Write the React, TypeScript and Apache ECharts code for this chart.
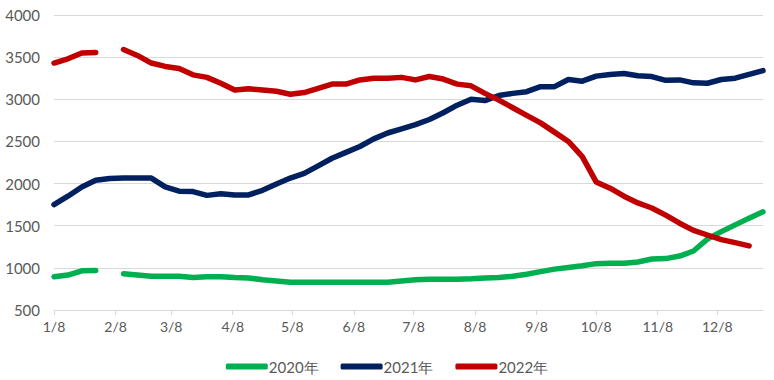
import React, { useEffect, useRef } from "react";
import * as echarts from "echarts";

// Weekly observations starting 1/8 (7-day steps); null = no data
const series2020: (number | null)[] = [
  895, 915, 965, 970, null, 930, 915, 900, 900, 900,
  885, 895, 895, 885, 880, 860, 845, 830, 830, 830,
  830, 830, 830, 830, 830, 845, 860, 865, 865, 865,
  870, 880, 885, 900, 925, 955, 985, 1005, 1025, 1050,
  1055, 1055, 1070, 1105, 1110, 1140, 1200, 1340, 1430, 1510,
  1590, 1665,
];
const series2021: (number | null)[] = [
  1750, 1850, 1960, 2040, 2060, 2065, 2065, 2065, 1960, 1910,
  1905, 1860, 1880, 1865, 1865, 1920, 1995, 2065, 2120, 2210,
  2300, 2370, 2440, 2530, 2600, 2650, 2700, 2760, 2840, 2930,
  3000, 2985, 3045, 3070, 3090, 3150, 3150, 3235, 3215, 3275,
  3295, 3305, 3280, 3270, 3225, 3230, 3195, 3190, 3235, 3250,
  3295, 3340,
];
const series2022: (number | null)[] = [
  3430, 3480, 3550, 3555, null, 3590, 3520, 3430, 3390, 3365,
  3290, 3260, 3190, 3110, 3125, 3110, 3095, 3060, 3080, 3130,
  3180, 3180, 3230, 3250, 3250, 3260, 3230, 3270, 3240, 3180,
  3160, 3070, 2990, 2900, 2810, 2720, 2610, 2500, 2320, 2020,
  1945, 1850, 1770, 1710, 1625, 1530, 1445, 1390, 1335, 1300,
  1260, null,
];
const seriesNames = ["2020年", "2021年", "2022年"];
const seriesColors = ["#00B050", "#002060", "#C00000"];
const yTicks = { min: 500, max: 4000, interval: 500 };
const labelDay = 8; // tick labels shown as M/8

// daily category axis from 1/8 to 12/31
const monthDays = [31, 28, 31, 30, 31, 30, 31, 31, 30, 31, 30, 31];
const days: string[] = [];
for (let m = 0; m < 12; m++) {
  for (let d = 1; d <= monthDays[m]; d++) {
    if (m === 0 && d < 8) continue;
    days.push(`${m + 1}/${d}`);
  }
}
const isLabelDay = (_i: number, v: string) => v.split("/")[1] === String(labelDay);

export default function App() {
  const ref = useRef<HTMLDivElement>(null);
  useEffect(() => {
    if (!ref.current) return;
    const chart = echarts.init(ref.current, undefined, { renderer: "svg" });
    const all = [series2020, series2021, series2022];
    chart.setOption({
      animation: false,
      textStyle: { fontFamily: "Lato" },
      grid: { left: 54, right: 11, top: 15, bottom: 70 },
      legend: {
        top: 354,
        left: "center",
        icon: "roundRect",
        itemWidth: 42,
        itemHeight: 6,
        itemGap: 22,
        textStyle: { color: "#595959", fontSize: 15, fontFamily: "Lato", padding: [0, 0, 0, -4] },
        data: seriesNames,
      },
      xAxis: {
        type: "category",
        boundaryGap: false,
        data: days,
        axisLine: { lineStyle: { color: "#d9d9d9" } },
        axisTick: { interval: isLabelDay, length: 5, lineStyle: { color: "#d9d9d9" } },
        axisLabel: { interval: isLabelDay, color: "#595959", fontSize: 14, margin: 9 },
        splitLine: { show: false },
      },
      yAxis: {
        type: "value",
        min: yTicks.min,
        max: yTicks.max,
        interval: yTicks.interval,
        axisLine: { show: false },
        axisTick: { show: false },
        axisLabel: { color: "#595959", fontSize: 15, margin: 14, formatter: (v: number) => String(v) },
        splitLine: { lineStyle: { color: "#d9d9d9" } },
      },
      series: all.map((vals, k) => ({
        name: seriesNames[k],
        type: "line",
        symbol: "none",
        connectNulls: false,
        itemStyle: { color: seriesColors[k] },
        lineStyle: { width: 5.5, color: seriesColors[k], cap: "round", join: "round" },
        data: vals.map((v, i) => [i * 7, v === null ? "-" : v]),
      })),
    });
    return () => chart.dispose();
  }, []);
  return (
    <div
      ref={ref}
      style={{ position: "fixed", left: 0, top: 0, width: 774, height: 380, background: "#fff" }}
    />
  );
}
